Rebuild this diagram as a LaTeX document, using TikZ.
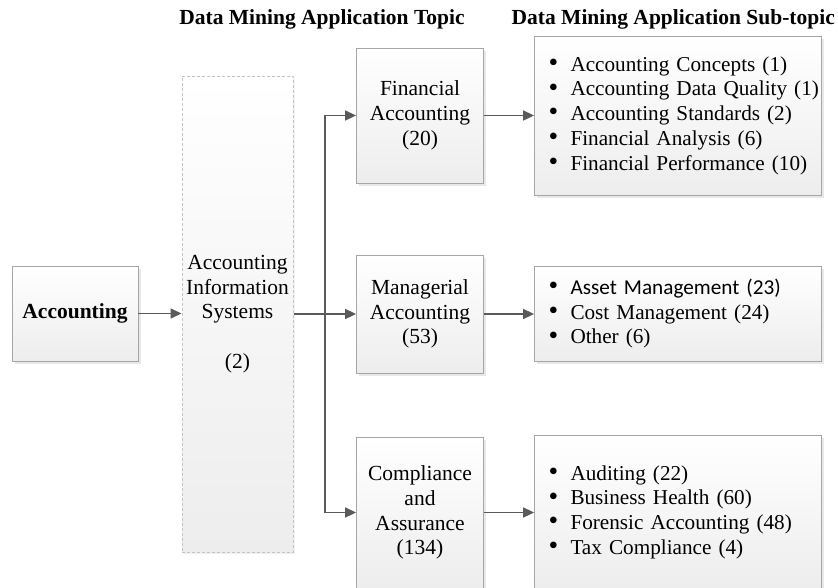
\documentclass[tikz,border=0pt]{standalone}
\usepackage{fontspec}
\setmainfont{Liberation Serif}
\newfontfamily\calibrifont{Carlito}
\usetikzlibrary{arrows.meta,shadows}
\definecolor{boxline}{HTML}{A6A6A6}
\definecolor{dashline}{HTML}{C4C4C4}
\definecolor{arrowcol}{HTML}{5A5A5A}
\definecolor{boxbottom}{HTML}{EDEDED}
\newcommand\li[1]{\hspace*{14pt}\makebox[22pt][l]{\smash{\raisebox{-0.3pt}{\scalebox{1.3}{\textbullet}}}}\mbox{#1}}
\begin{document}
\begin{tikzpicture}[x=1pt,y=-1pt,
  txt/.style={font=\fontsize{21.5}{24.7}\selectfont},
  listtxt/.style={font=\fontsize{21.2}{24.7}\selectfont},
  headtxt/.style={font=\fontsize{21.5}{24.7}\selectfont\bfseries, inner sep=0pt},
  boxbase/.style={txt, top color=white, bottom color=boxbottom, inner sep=0pt},
  box/.style={boxbase, draw=boxline, line width=0.8pt, align=center,
    general shadow={fill=black!9, shadow xshift=2.5pt, shadow yshift=-2.5pt}},
  aisbox/.style={boxbase, draw=dashline, line width=1pt, dash pattern=on 3pt off 2pt, align=center,
    general shadow={fill=black!5, shadow xshift=2pt, shadow yshift=-2pt}},
  listbox/.style={box, listtxt, align=left, inner xsep=0pt, text width=287pt},
  arr/.style={draw=arrowcol, line width=1.6pt, -{Triangle[length=11pt,width=10pt]}},
  ln/.style={draw=arrowcol, line width=1.6pt}]
\clip (0,0) rectangle (838,587);
\fill[white] (0,0) rectangle (838,587);

\node[headtxt, anchor=base] (h1) at (322,24) {Data Mining Application Topic};
\node[headtxt, anchor=base east] (h2) at (835,24) {Data Mining Application Sub-topic};

\node[box, minimum width=126pt, minimum height=95pt] (acc) at (75,313.5) {\textbf{Accounting}};
\node[aisbox, minimum width=111pt, minimum height=476pt] (ais) at (237.5,314)
  {Accounting\\Information\\Systems\\\mbox{}\\(2)};

\node[box, minimum width=127pt, minimum height=135pt] (fa) at (420,115.5) {Financial\\Accounting\\(20)};
\node[box, minimum width=127pt, minimum height=118pt] (ma) at (420,314) {Managerial\\Accounting\\(53)};
\node[box, minimum width=127pt, minimum height=151pt] (ca) at (420,512.5) {Compliance\\and\\Assurance\\(134)};

\node[listbox, minimum width=287pt, minimum height=159pt] (s1) at (678,115.5)
  {\li{Accounting Concepts (1)}\\\li{Accounting Data Quality (1)}\\\li{Accounting Standards (2)}\\\li{Financial Analysis (6)}\\\li{Financial Performance (10)}};
\node[listbox, minimum width=287pt, minimum height=95pt] (s2) at (678,313.5)
  {\li{\calibrifont Asset Management (23)}\\\li{Cost Management (24)}\\\li{Other (6)}};
\node[listbox, minimum width=287pt, minimum height=154pt] (s3) at (678,512)
  {\li{Auditing (22)}\\\li{Business Health (60)}\\\li{Forensic Accounting (48)}\\\li{Tax Compliance (4)}};

\coordinate (tr) at (325,314);
\draw[arr] (acc.east) -- (acc.east -| ais.west);
\draw[arr] (ais.east) -- (ma.west);
\draw[arr] (tr) |- (fa.west);
\draw[arr] (tr) |- (ca.west);
\draw[arr] (fa.east) -- (fa.east -| s1.west);
\draw[arr] (ma.east) -- (ma.east -| s2.west);
\draw[arr] (ca.east) -- (ca.east -| s3.west);
\end{tikzpicture}
\end{document}
